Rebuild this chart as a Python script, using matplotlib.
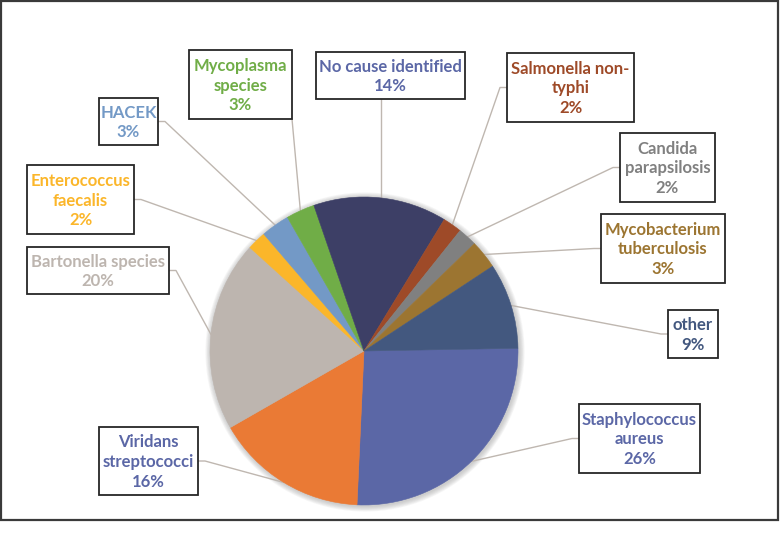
import numpy as np
import matplotlib.pyplot as plt
from matplotlib.patches import Rectangle, Circle

plt.rcParams['font.family'] = ['Lato', 'DejaVu Sans']

# data (clockwise from 3 o'clock)
names = ['Staphylococcus\naureus', 'Viridans\nstreptococci', 'Bartonella species',
         'Enterococcus\nfaecalis', 'HACEK', 'Mycoplasma\nspecies', 'No cause identified',
         'Salmonella non-\ntyphi', 'Candida\nparapsilosis', 'Mycobacterium\ntuberculosis', 'other']
pcts = [26, 16, 20, 2, 3, 3, 14, 2, 2, 3, 9]
slice_colors = ['#5B67A6', '#EA7A35', '#BDB5AF', '#FBB62A', '#7399C6', '#70AD47',
                '#3D3F66', '#9E4A28', '#808080', '#9C7531', '#43587F']
text_colors = ['#5B67A6', '#5B67A6', '#BDB5AF', '#FBB62A', '#7399C6', '#70AD47',
               '#5B67A6', '#9E4A28', '#808080', '#9C7531', '#43587F']

# label boxes in pixels (x0, y0, x1, y1) and side the leader line leaves from
boxes = [(579, 404, 700, 473), (99, 427, 198, 495), (27, 247, 169, 294),
         (27, 165, 134, 234), (99, 98, 158, 145), (189, 50, 292, 119),
         (316, 52, 465, 99), (507, 53, 634, 122), (620, 133, 715, 202),
         (601, 214, 725, 283), (668, 310, 718, 358)]
sides = ['L', 'R', 'R', 'R', 'R', 'B', 'B', 'L', 'L', 'L', 'L']

W, H = 780, 543
cx, cy, r = 364, 351, 154
start = 1

fig = plt.figure(figsize=(7.8, 5.43), dpi=100)
ax = fig.add_axes([0, 0, 1, 1])

# soft shadow around the pie
for k in range(7, 0, -1):
    ax.add_patch(Circle((cx + 1, H - cy - 1), r + k * 0.8, color='#8a8a8a',
                        alpha=0.07, lw=0, zorder=1))

wedges, _ = ax.pie(pcts, colors=slice_colors, startangle=start, counterclock=False,
                   center=(cx, H - cy), radius=r, frame=True,
                   wedgeprops=dict(linewidth=0.4, zorder=2))
for w, c in zip(wedges, slice_colors):
    w.set_edgecolor(c)

for w, name, p, tc, (x0, y0, x1, y1), side in zip(wedges, names, pcts, text_colors, boxes, sides):
    mid = np.deg2rad((w.theta1 + w.theta2) / 2)
    px, py = cx + r * np.cos(mid), cy - r * np.sin(mid)
    if side == 'L':
        ay = (y0 + y1) / 2
        xs, ys = [x0, x0 - 7, px], [ay, ay, py]
    elif side == 'R':
        ay = (y0 + y1) / 2
        xs, ys = [x1, x1 + 7, px], [ay, ay, py]
    else:
        ax_ = min(max(px, x0), x1)
        xs, ys = [ax_, px], [y1, py]
    ax.plot(xs, [H - v for v in ys], color='#BFB7B0', lw=1, zorder=1.5)
    ax.add_patch(Rectangle((x0, H - y1), x1 - x0, y1 - y0, facecolor='white',
                           edgecolor='#262626', lw=1.3, zorder=3))
    ax.text((x0 + x1) / 2, H - (y0 + y1) / 2 - 1, f'{name}\n{p}%', color=tc,
            ha='center', va='center', fontsize=12, fontweight='bold',
            linespacing=1.3, zorder=4)

# chart frame
ax.add_patch(Rectangle((1, H - 520), 777, 519.5, fill=False, edgecolor='#3a3a3a', lw=1.6, zorder=5))

ax.set_xlim(0, W)
ax.set_ylim(0, H)
ax.set_aspect('equal')
ax.axis('off')

fig.savefig('out.png', dpi=100, facecolor='white')
